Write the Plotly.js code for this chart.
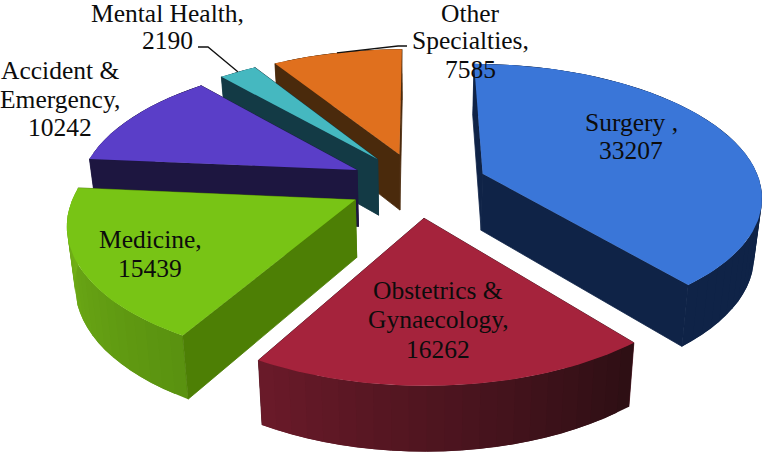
<!DOCTYPE html>
<html><head><meta charset="utf-8">
<script src="https://cdn.plot.ly/plotly-3.0.1.min.js"></script>
<style>html,body{margin:0;padding:0;background:#fff}#c{width:765px;height:452px}</style>
</head><body><div id="c"></div>
<script>
// Data
const categories = ["Surgery ,", "Obstetrics &<br>Gynaecology,", "Medicine,", "Accident &<br>Emergency,", "Mental Health,", "Other<br>Specialties,"];
const values = [33207, 16262, 15439, 10242, 2190, 7585];
// Styles
const topColors = ["#3a76d8", "#a5233c", "#78c415", "#5a3ec8", "#45b8c0", "#e0701e"];
const cutColors = ["#0f2347", "#4a1420", "#4d7f05", "#1d1640", "#133a45", "#4a2a0c"];
const rimStart  = ["#0f2347", "#2e0f14", "#5a9210", "#1d1640", "#133a45", "#4a2a0c"];
const rimEnd    = ["#0f2347", "#6c1a2a", "#75b518", "#1d1640", "#133a45", "#4a2a0c"];
const paintOrder = [5, 0, 4, 3, 2, 1];
const labelX = [631, 438, 150, 60, 167, 470];
const labelBase = [[130, 158], [298, 327, 357], [247, 276], [78, 107, 135], [21, 48], [21, 48, 77]];
const labelFont = {family: "Liberation Serif, serif", size: 25.5, color: "#0c0c0c"};
// Projection of the tilted pie onto the plot axes
const cx = 418, cy = 184.5, ax = 278, by = 130, persp = 0.155, explode = 0.25, shrink = 0.977;
const rad = d => d * Math.PI / 180;
function proj(X, Y) {
  const w = 1 / (1 + persp * Y);
  return {x: cx + ax * X * w, y: cy - by * Y * w, w};
}
function drop(p) { // same point on the lower face
  return {x: cx + (p.x - cx) * shrink, y: p.y + 20 + 37 * p.w};
}
const total = values.reduce((a, b) => a + b, 0);
let acc = 0;
const slices = values.map(v => {
  const a0 = acc / total * 360; acc += v; const a1 = acc / total * 360;
  const m = rad((a0 + a1) / 2);
  return {a0, a1, ox: explode * Math.sin(m), oy: explode * Math.cos(m)};
});
const rimPt = (s, deg) => proj(s.ox + Math.sin(rad(deg)), s.oy + Math.cos(rad(deg)));
const mix = (c1, c2, t) => {
  const h = (c, i) => parseInt(c.substr(1 + 2 * i, 2), 16);
  return "rgb(" + [0, 1, 2].map(i => Math.round(h(c1, i) + (h(c2, i) - h(c1, i)) * t)).join(",") + ")";
};
const traces = [];
function poly(pts, color, width) {
  traces.push({
    type: "scatter", mode: "lines", fill: "toself", fillcolor: color,
    x: pts.map(p => p.x).concat(pts[0].x), y: pts.map(p => p.y).concat(pts[0].y),
    line: {color: color, width: width || 0}, hoverinfo: "skip", showlegend: false
  });
}
paintOrder.forEach(i => {
  const s = slices[i], apex = proj(s.ox, s.oy);
  const step = (s.a1 - s.a0) / Math.max(2, Math.round((s.a1 - s.a0) / 3));
  const cut = a => {
    const r = rimPt(s, a);
    poly([apex, r, drop(r), drop(apex)], cutColors[i], 0.8);
  };
  // a cut face looks at the viewer when its outward normal points to the front of the pie
  const cuts = [{a: s.a0, front: Math.cos(rad(s.a0 - 90)) < 0}, {a: s.a1, front: Math.cos(rad(s.a1 + 90)) < 0}];
  cuts.filter(c => !c.front).forEach(c => cut(c.a));
  for (let a = s.a0; a < s.a1 - 1e-6; a += step) {
    // each strip runs under the next one so no seams show
    const end = Math.min(a + step * 2, s.a1);
    const fine = [a, (a + end) / 2, end].map(d => rimPt(s, d));
    poly(fine.concat(fine.slice().reverse().map(drop)), mix(rimStart[i], rimEnd[i], (a - s.a0) / (s.a1 - s.a0)));
  }
  cuts.filter(c => c.front).forEach(c => cut(c.a));
  const top = [apex];
  for (let a = s.a0; a <= s.a1 + 1e-6; a += step / 2) top.push(rimPt(s, a));
  poly(top, topColors[i]);
});
// Leader lines from the outside labels to the rim
const leaders = [
  {i: 4, from: [[198, 47], [208, 47]]},
  {i: 5, from: [[407, 46], [398, 46]]}
];
leaders.forEach(l => {
  const s = slices[l.i], r = rimPt(s, (s.a0 + s.a1) / 2);
  traces.push({
    type: "scatter", mode: "lines",
    x: l.from.map(p => p[0]).concat(r.x), y: l.from.map(p => p[1]).concat(r.y),
    line: {color: "#111", width: 1.3}, hoverinfo: "skip", showlegend: false
  });
});
const annotations = [];
categories.forEach((c, i) => {
  (c + "<br>" + values[i]).split("<br>").forEach((line, j) => {
    annotations.push({
      x: labelX[i], y: labelBase[i][j] - 8, xref: "x", yref: "y", showarrow: false,
      text: line, font: labelFont, align: "center", xanchor: "center", yanchor: "middle"
    });
  });
});
const hidden = {visible: false, fixedrange: true};
Plotly.newPlot("c", traces, {
  width: 765, height: 452, margin: {l: 0, r: 0, t: 0, b: 0},
  paper_bgcolor: "#fff", plot_bgcolor: "#fff", showlegend: false, hovermode: false,
  xaxis: Object.assign({range: [0, 765]}, hidden),
  yaxis: Object.assign({range: [452, 0]}, hidden),
  annotations
}, {displayModeBar: false, staticPlot: true});
</script></body></html>
